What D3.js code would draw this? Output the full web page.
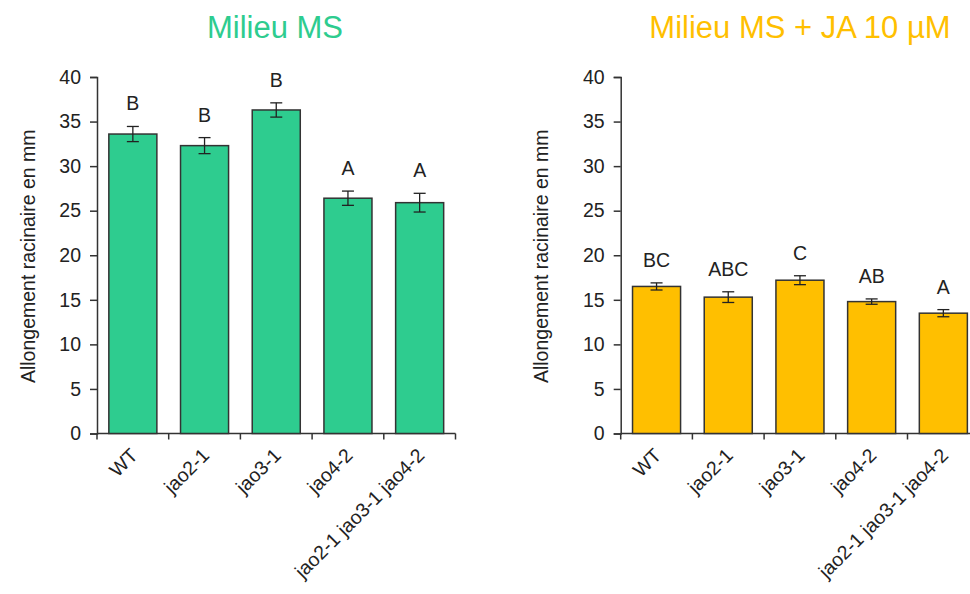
<!DOCTYPE html>
<html><head><meta charset="utf-8">
<script src="https://cdn.jsdelivr.net/npm/d3@7"></script>
<style>body{margin:0;background:#fff}svg{display:block}</style>
</head><body>
<svg id="c" width="970" height="594"></svg>
<script>
const categories = ["WT","jao2-1","jao3-1","jao4-2","jao2-1 jao3-1 jao4-2"];
const msValues = [33.6, 32.3, 36.3, 26.4, 25.9];
const msErrors = [0.85, 0.9, 0.8, 0.8, 1.05];
const msLetters = ["B","B","B","A","A"];
const jaValues = [16.5, 15.3, 17.2, 14.8, 13.5];
const jaErrors = [0.4, 0.6, 0.5, 0.3, 0.4];
const jaLetters = ["BC","ABC","C","AB","A"];
const yTicks = [0,5,10,15,20,25,30,35,40];
const titles = ["Milieu MS", "Milieu MS + JA 10 µM"];
const yLabel = "Allongement racinaire en mm";

const svg = d3.select("#c");
const font = "Liberation Sans, Arial, sans-serif";
const axisCol = "#333";
const fs = 19.5;

function panel(x0, values, errors, letters, color, title, titleX, ylabOff) {
  const g = svg.append("g");
  const x = d3.scaleBand().domain(categories).range([x0, x0 + 358.5]).paddingInner(0.33).paddingOuter(0.165);
  const y = d3.scaleLinear().domain([0, 40]).range([433.5, 77]);

  g.append("text").attr("x", titleX).attr("y", 38).attr("text-anchor", "middle")
    .attr("font-family", font).attr("font-size", 31).attr("fill", color).text(title);

  // y axis
  const ya = g.append("g").attr("transform", `translate(${x0},0)`)
    .call(d3.axisLeft(y).tickValues(yTicks).tickSize(7).tickPadding(9));
  ya.select(".domain").attr("stroke", axisCol).attr("stroke-width", 1.5);
  ya.selectAll(".tick line").attr("stroke", axisCol).attr("stroke-width", 1.5);
  ya.selectAll(".tick text").attr("font-family", font).attr("font-size", fs).attr("fill", "#222");

  // x axis line and ticks at band boundaries
  const step = x.step();
  const bounds = d3.range(categories.length + 1).map(i => x0 + i * step);
  g.append("line").attr("x1", x0).attr("x2", x0 + categories.length * step)
    .attr("y1", y(0)).attr("y2", y(0)).attr("stroke", axisCol).attr("stroke-width", 1.5);
  g.selectAll(".xt").data(bounds).enter().append("line")
    .attr("x1", d => d).attr("x2", d => d).attr("y1", y(0)).attr("y2", y(0) + 6)
    .attr("stroke", axisCol).attr("stroke-width", 1.5);

  // bars
  g.selectAll(".bar").data(values).enter().append("rect")
    .attr("x", (d, i) => x(categories[i])).attr("width", x.bandwidth())
    .attr("y", d => y(d)).attr("height", d => y(0) - y(d))
    .attr("fill", color).attr("stroke", "#333").attr("stroke-width", 1.5);

  // error bars
  const cx = i => x(categories[i]) + x.bandwidth() / 2;
  values.forEach((v, i) => {
    const e = errors[i];
    g.append("line").attr("x1", cx(i)).attr("x2", cx(i)).attr("y1", y(v + e)).attr("y2", y(v - e))
      .attr("stroke", "#222").attr("stroke-width", 1.3);
    [v + e, v - e].forEach(t => g.append("line").attr("x1", cx(i) - 6).attr("x2", cx(i) + 6)
      .attr("y1", y(t)).attr("y2", y(t)).attr("stroke", "#222").attr("stroke-width", 1.3));
    g.append("text").attr("x", cx(i)).attr("y", y(v + e) - 16).attr("text-anchor", "middle")
      .attr("font-family", font).attr("font-size", fs).attr("fill", "#222").text(letters[i]);
  });

  // x labels
  categories.forEach((c, i) => {
    g.append("text").attr("transform", `translate(${cx(i) + 6},${y(0) + 23}) rotate(-45)`)
      .attr("text-anchor", "end").attr("font-family", font).attr("font-size", fs).attr("fill", "#222").text(c);
  });

  // y label
  g.append("text").attr("transform", `translate(${x0 - ylabOff},${(77 + 433.5) / 2 + 1}) rotate(-90)`)
    .attr("text-anchor", "middle").attr("font-family", font).attr("font-size", fs).attr("fill", "#222").text(yLabel);
}

panel(97, msValues, msErrors, msLetters, "#2ECC8F", titles[0], 275, 62);
panel(620.7, jaValues, jaErrors, jaLetters, "#FFBF00", titles[1], 800, 72.5);
</script>
</body></html>
